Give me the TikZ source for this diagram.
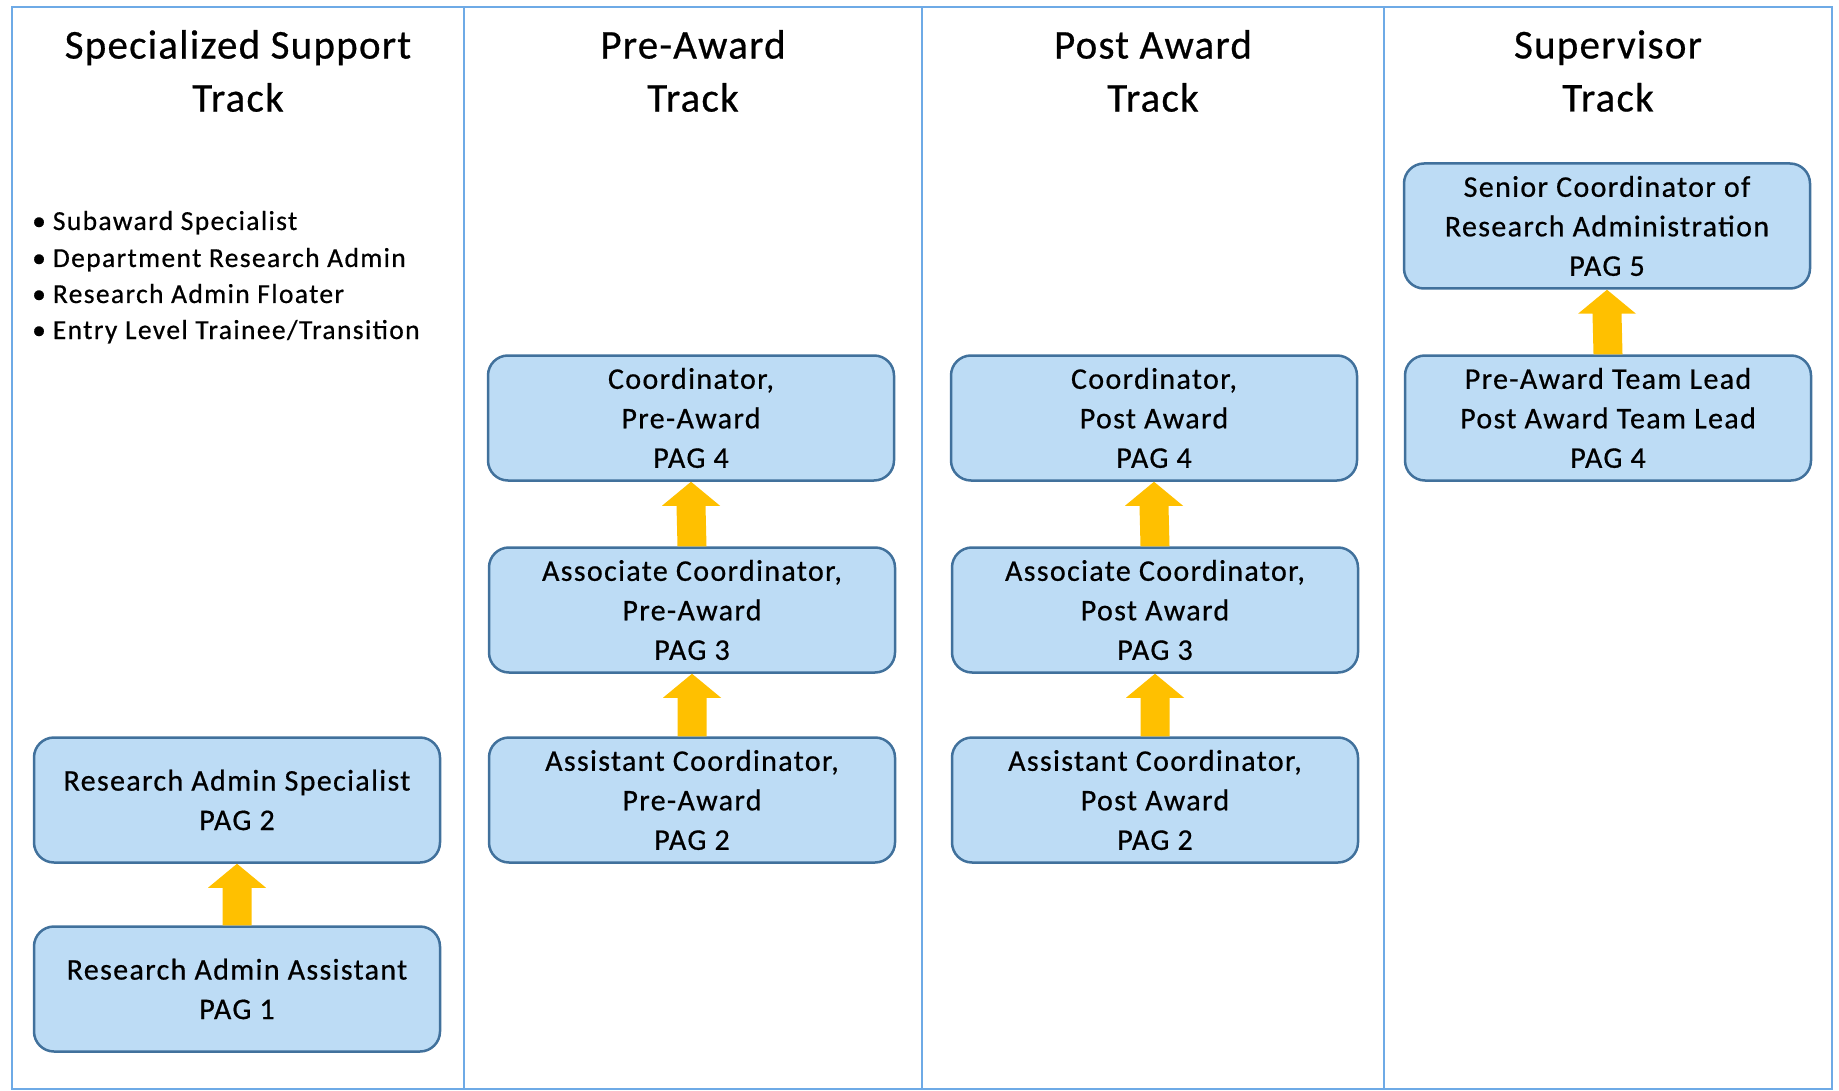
\documentclass[tikz,border=0pt]{standalone}
\usepackage{fontspec}
\setmainfont{Carlito}[FakeBold=0.6]
\usetikzlibrary{calc}
\definecolor{boxfill}{RGB}{189,220,245}
\definecolor{boxline}{RGB}{65,113,156}
\definecolor{framecol}{RGB}{110,170,230}
\definecolor{arrowcol}{RGB}{255,192,0}
\tikzset{
  rolebox/.style={draw=boxline, fill=boxfill, line width=2.5pt, rounded corners=20pt,
    minimum width=406pt, minimum height=125pt, align=center, inner sep=0pt,
    font=\fontsize{30}{39.5}\selectfont\addfontfeature{LetterSpace=4.5}},
  tracktitle/.style={align=center, inner sep=0pt,
    font=\fontsize{41}{53}\selectfont\addfontfeature{LetterSpace=3}},
  bullettext/.style={anchor=base west, inner sep=0pt,
    font=\fontsize{27.5}{36}\selectfont\addfontfeature{LetterSpace=5}},
  framestyle/.style={draw=framecol, line width=2pt}
}
\newcommand\promoarrow[2]{%
  \fill[arrowcol] ($(#1.north)+(-14.5,0)$) -- ($(#2.south)+(-14.5,24)$) -- ($(#2.south)+(-29,24)$)
    -- (#2.south) -- ($(#2.south)+(29,24)$) -- ($(#2.south)+(14.5,24)$) -- ($(#1.north)+(14.5,0)$) -- cycle;}
\begin{document}
\begin{tikzpicture}[x=1pt,y=-1pt]
\useasboundingbox (0,0) rectangle (1839,1091);
% frame
\draw[framestyle] (12,7) rectangle (1832,1089);
\coordinate (d1t) at (464,7); \coordinate (d1b) at (464,1089);
\coordinate (d2t) at (922,7); \coordinate (d2b) at (922,1089);
\coordinate (d3t) at (1384,7); \coordinate (d3b) at (1384,1089);
\draw[framestyle] (d1t) -- (d1b);
\draw[framestyle] (d2t) -- (d2b);
\draw[framestyle] (d3t) -- (d3b);
% titles
\node[tracktitle] (t1) at (238,71) {Specialized Support\\Track};
\node[tracktitle] (t2) at (693,71) {Pre-Award\\Track};
\node[tracktitle] (t3) at (1153,71) {Post Award\\Track};
\node[tracktitle] (t4) at (1608,71) {Supervisor\\Track};
% bullets
\node[bullettext] (b1) at (32,230) {\textbullet\hspace{7pt}Subaward Specialist};
\node[bullettext] (b2) at (32,267) {\textbullet\hspace{7pt}Department Research Admin};
\node[bullettext] (b3) at (32,303) {\textbullet\hspace{7pt}Research Admin Floater};
\node[bullettext] (b4) at (32,339) {\textbullet\hspace{7pt}Entry Level Trainee/Transition};
% column 1
\node[rolebox] (ras) at (237,800) {Research Admin Specialist\\PAG 2};
\node[rolebox] (raa) at (237,989) {Research Admin Assistant\\PAG 1};
% column 2
\node[rolebox] (pre4) at (691,418) {Coordinator,\\Pre-Award\\PAG 4};
\node[rolebox] (pre3) at (692,610) {Associate Coordinator,\\Pre-Award\\PAG 3};
\node[rolebox] (pre2) at (692,800) {Assistant Coordinator,\\Pre-Award\\PAG 2};
% column 3
\node[rolebox] (post4) at (1154,418) {Coordinator,\\Post Award\\PAG 4};
\node[rolebox] (post3) at (1155,610) {Associate Coordinator,\\Post Award\\PAG 3};
\node[rolebox] (post2) at (1155,800) {Assistant Coordinator,\\Post Award\\PAG 2};
% column 4
\node[rolebox] (sup5) at (1607,226) {Senior Coordinator of\\Research Administration\\PAG 5};
\node[rolebox] (sup4) at (1608,418) {Pre-Award Team Lead\\Post Award Team Lead\\PAG 4};
% arrows
\promoarrow{raa}{ras}
\promoarrow{pre3}{pre4}
\promoarrow{pre2}{pre3}
\promoarrow{post3}{post4}
\promoarrow{post2}{post3}
\promoarrow{sup4}{sup5}
\end{tikzpicture}
\end{document}
